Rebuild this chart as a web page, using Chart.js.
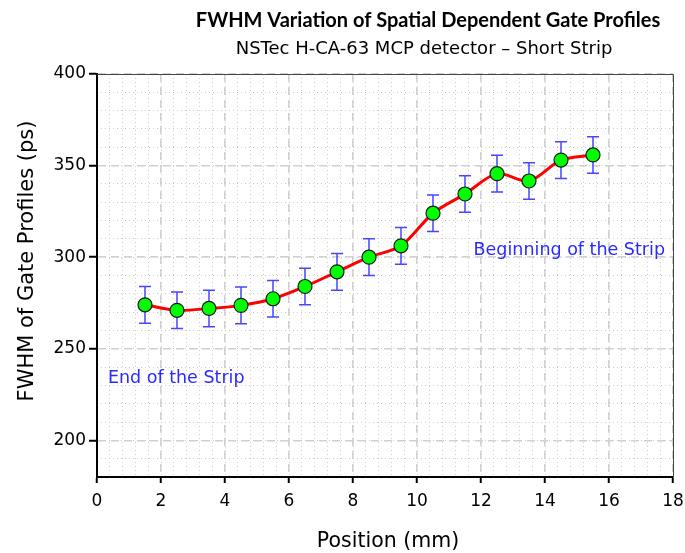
<!DOCTYPE html>
<html>
<head>
<meta charset="utf-8">
<script src="https://cdn.jsdelivr.net/npm/chart.js@4.4.0/dist/chart.umd.min.js"></script>
<style>
html,body{margin:0;padding:0;background:#fff;}
#wrap{width:685px;height:553px;}
</style>
</head>
<body>
<div id="wrap"><canvas id="c" width="685" height="553"></canvas></div>
<script>
const positions = [1.5, 2.5, 3.5, 4.5, 5.5, 6.5, 7.5, 8.5, 9.5, 10.5, 11.5, 12.5, 13.5, 14.5, 15.5];
const fwhm = [274, 271, 272, 273.7, 277.3, 284, 292, 300, 306.2, 324, 334.5, 345.6, 341.6, 353, 355.8];
const errors = [10, 10, 10, 10, 10, 10, 10, 10, 10, 10, 10, 10, 10, 10, 10];
const yTicks = [200, 250, 300, 350, 400];
const xTicks = [0, 2, 4, 6, 8, 10, 12, 14, 16, 18];
const titleText = 'FWHM Variation of Spatial Dependent Gate Profiles';
const subtitleText = 'NSTec H-CA-63 MCP detector \u2013 Short Strip';
const xTitle = 'Position (mm)';
const yTitle = 'FWHM of Gate Profiles (ps)';
const notes = [
  {text: 'End of the Strip', x: 0.34, y: 234, align: 'left'},
  {text: 'Beginning of the Strip', x: 17.75, y: 303.5, align: 'right'}
];

const FONT = "'DejaVu Sans', sans-serif";

const errorBars = {
  id: 'errorBars',
  beforeDatasetsDraw(chart) {
    const {ctx, scales: {x, y}} = chart;
    ctx.save();
    ctx.strokeStyle = '#4646ff';
    ctx.lineWidth = 1.5;
    positions.forEach((p, i) => {
      const px = x.getPixelForValue(p);
      const top = y.getPixelForValue(fwhm[i] + errors[i]);
      const bot = y.getPixelForValue(fwhm[i] - errors[i]);
      ctx.beginPath();
      ctx.moveTo(px, top); ctx.lineTo(px, bot);
      ctx.moveTo(px - 6, top); ctx.lineTo(px + 6, top);
      ctx.moveTo(px - 6, bot); ctx.lineTo(px + 6, bot);
      ctx.stroke();
    });
    ctx.restore();
  }
};

const decorations = {
  id: 'decorations',
  afterDraw(chart) {
    const {ctx, chartArea: a, scales: {x, y}} = chart;
    ctx.save();
    // frame top/right
    ctx.strokeStyle = '#444';
    ctx.lineWidth = 1;
    ctx.beginPath();
    ctx.moveTo(a.left, a.top + 0.5); ctx.lineTo(a.right + 0.5, a.top + 0.5); ctx.lineTo(a.right + 0.5, a.bottom);
    ctx.stroke();
    // notes
    ctx.fillStyle = '#2a2aff';
    ctx.font = '17.5px ' + FONT;
    ctx.textBaseline = 'middle';
    notes.forEach(n => {
      ctx.textAlign = n.align;
      ctx.fillText(n.text, x.getPixelForValue(n.x), y.getPixelForValue(n.y));
    });
    // titles
    ctx.fillStyle = '#000';
    ctx.textAlign = 'center';
    ctx.textBaseline = 'alphabetic';
    ctx.font = "bold 20px Lato, sans-serif";
    ctx.fillText(titleText, 428, 27);
    ctx.font = '18px ' + FONT;
    ctx.fillText(subtitleText, 424, 54);
    // x axis title
    ctx.font = '20.5px ' + FONT;
    ctx.fillText(xTitle, (a.left + a.right) / 2 + 3, 547);
    // y axis title
    ctx.font = '21px ' + FONT;
    ctx.textBaseline = 'middle';
    ctx.translate(28, 261);
    ctx.rotate(-Math.PI / 2);
    ctx.fillText(yTitle, 0, 0);
    ctx.restore();
  }
};

new Chart(document.getElementById('c'), {
  type: 'line',
  data: {
    datasets: [{
      data: positions.map((p, i) => ({x: p, y: fwhm[i]})),
      borderColor: '#ff0000',
      borderWidth: 3,
      tension: 0.3,
      pointRadius: 7,
      pointBackgroundColor: '#00ff00',
      pointBorderColor: '#1a1a1a',
      pointBorderWidth: 1.2,
      fill: false
    }]
  },
  options: {
    responsive: false,
    animation: false,
    layout: {padding: {top: 74, right: 12, left: 0, bottom: 0}},
    plugins: {legend: {display: false}, tooltip: {enabled: false}, title: {display: false}},
    scales: {
      xMinor: {
        type: 'linear', position: 'bottom', min: 0, max: 18,
        ticks: {display: false, stepSize: 0.4},
        grid: {color: '#cccccc', lineWidth: 1, drawTicks: false},
        border: {display: false, dash: [1, 3]},
        afterFit(s) { s.height = 0; s.paddingLeft = 0; s.paddingRight = 0; }
      },
      yMinor: {
        type: 'linear', position: 'left', min: 180, max: 400,
        ticks: {display: false, stepSize: 10},
        grid: {color: '#cccccc', lineWidth: 1, drawTicks: false},
        border: {display: false, dash: [1, 3]},
        afterFit(s) { s.width = 0; s.paddingTop = 0; s.paddingBottom = 0; }
      },
      x: {
        type: 'linear', position: 'bottom', min: 0, max: 18,
        afterBuildTicks(s) { s.ticks = xTicks.map(v => ({value: v})); },
        ticks: {color: '#000', font: {family: FONT, size: 17}, padding: 8},
        grid: {color: '#d0d0d0', lineWidth: 1.5, tickColor: '#000', tickLength: 6, tickWidth: 2},
        border: {display: true, color: '#000', width: 2, dash: [8, 5]},
        afterFit(s) { s.height = 76; s.paddingLeft = 0; s.paddingRight = 0; }
      },
      y: {
        type: 'linear', position: 'left', min: 180, max: 400,
        afterBuildTicks(s) { s.ticks = yTicks.map(v => ({value: v})); },
        ticks: {color: '#000', font: {family: FONT, size: 17}, padding: 3},
        grid: {color: '#d0d0d0', lineWidth: 1.5, tickColor: '#000', tickLength: 8, tickWidth: 2},
        border: {display: true, color: '#000', width: 2, dash: [8, 5]},
        afterFit(s) { s.width = 97; s.paddingTop = 0; s.paddingBottom = 0; }
      }
    }
  },
  plugins: [errorBars, decorations]
});
</script>
</body>
</html>
